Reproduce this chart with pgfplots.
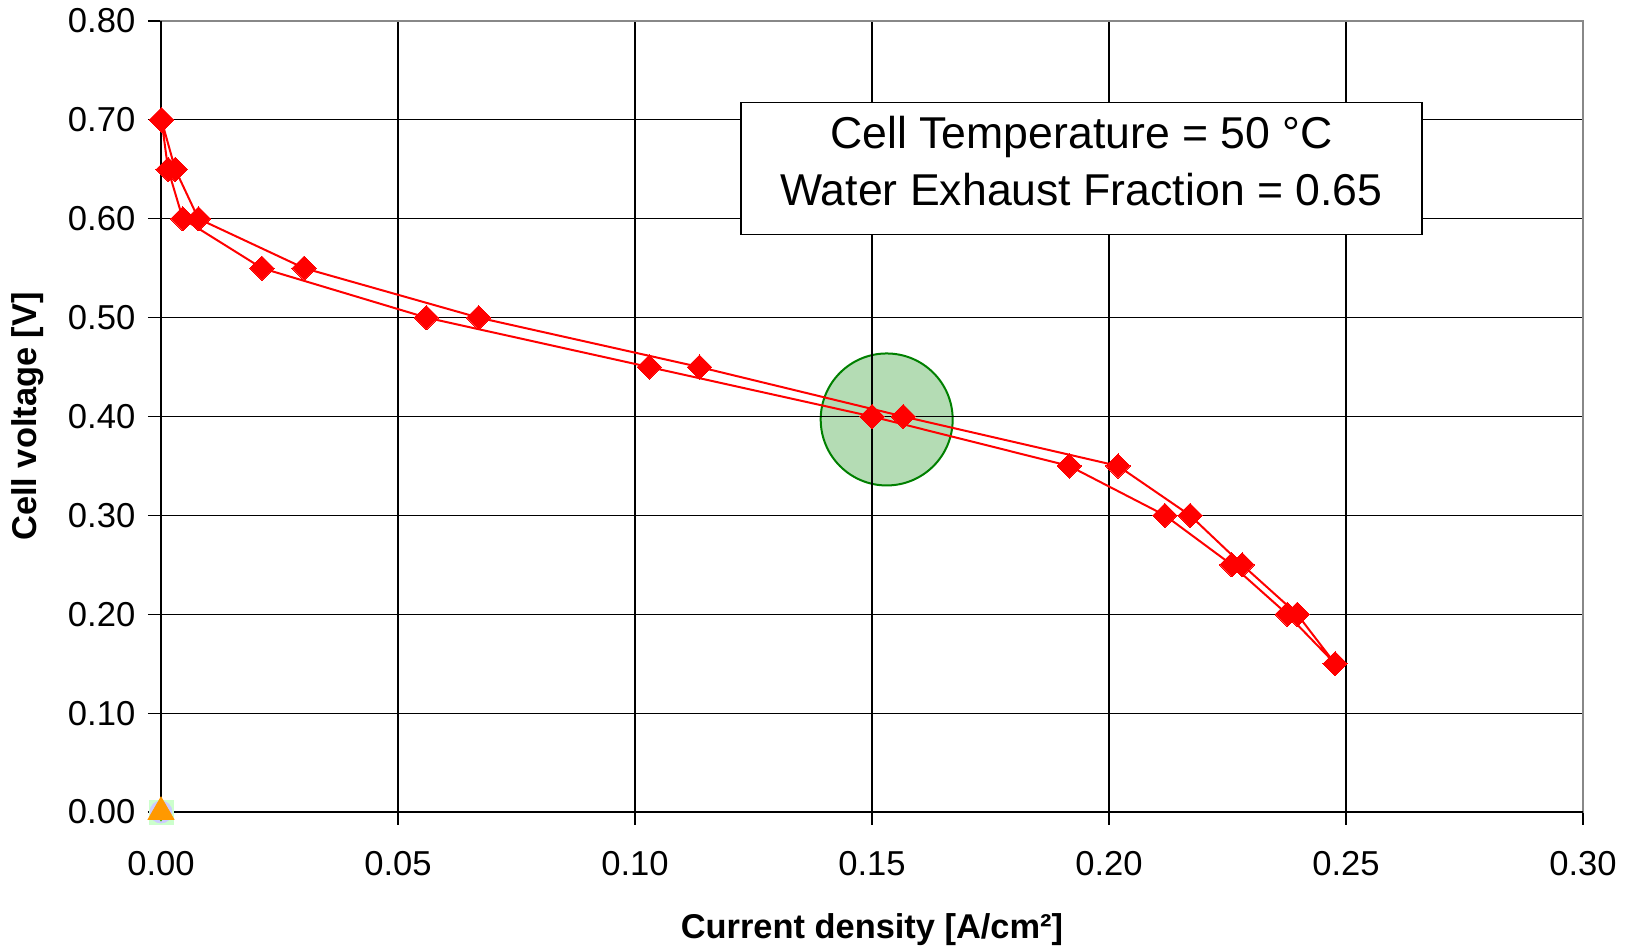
\documentclass[border=0pt]{standalone}
\usepackage{fontspec}
\setmainfont{Liberation Sans}
\usepackage{pgfplots}
\pgfplotsset{compat=1.18}
\definecolor{myred}{RGB}{255,0,0}
\definecolor{circfill}{RGB}{180,220,180}
\definecolor{circedge}{RGB}{0,128,0}
\definecolor{myorange}{RGB}{255,153,0}
\definecolor{frame}{RGB}{136,136,136}
\begin{document}
\begin{tikzpicture}
\pgfplotsset{set layers}
\begin{axis}[
  name=ax,
  scale only axis,
  width=711pt, height=395.5pt,
  xmin=0, xmax=0.30, ymin=0, ymax=0.80,
  xtick={0,0.05,...,0.30},
  ytick={0,0.1,...,0.8},
  xticklabels={0.00,0.05,0.10,0.15,0.20,0.25,0.30},
  yticklabels={0.00,0.10,0.20,0.30,0.40,0.50,0.60,0.70,0.80},
  tick pos=left,
  tick align=outside,
  major tick length=6.5pt,
  tick style={black, line width=0.6pt},
  grid=major,
  major grid style={black, line width=0.6pt},
  axis line style={frame, line width=1pt},
  /pgf/number format/assume math mode=true,
  ticklabel style={font=\fontsize{17.3}{19}\selectfont},
  xticklabel style={anchor=center, yshift=-26pt+6.5pt},
  yticklabel style={anchor=east, xshift=-2.8pt},
  xlabel={Current density [A/cm²]},
  ylabel={Cell voltage [V]},
  label style={font=\fontsize{17.2}{19}\selectfont\bfseries, inner sep=0pt},
  xlabel style={at={(axis description cs:0.5,-0.149)}, anchor=center},
  ylabel style={at={(axis description cs:-0.0935,0.5)}, anchor=center, rotate=0},
  clip=false,
]
% highlighted operating point (under the grid, as in the original)
\addplot[on layer=axis background, mark layer=like plot,
  only marks, mark=*, mark size=33pt,
  mark options={fill=circfill, draw=circedge, line width=1pt}]
  coordinates {(0.1531,0.397)};
% polarization curve (down and up sweep)
\addplot[myred, line width=1pt, mark=square*, mark size=4.3pt,
  mark options={rotate=45, fill=myred, draw=myred, line width=0pt}]
  coordinates {
  (0.0001,0.70) (0.0015,0.65) (0.0046,0.60) (0.0213,0.55) (0.0560,0.50)
  (0.1030,0.45) (0.1500,0.40) (0.1916,0.35) (0.2118,0.30) (0.2259,0.25)
  (0.2376,0.20) (0.2477,0.15) (0.2397,0.20) (0.2281,0.25) (0.2171,0.30)
  (0.2019,0.35) (0.1566,0.40) (0.1136,0.45) (0.0670,0.50) (0.0302,0.55)
  (0.0079,0.60) (0.0030,0.65) (0.0001,0.70)
  };
% series collapsed at origin
\addplot[only marks, mark=square*, mark size=6pt,
  mark options={fill=green!20, draw=green!20}] coordinates {(0,0)};
\addplot[only marks, mark=*, mark size=5.5pt,
  mark options={fill=blue!20, draw=blue!20}] coordinates {(0,0)};
\addplot[only marks, mark=diamond*, mark size=4.5pt,
  mark options={fill=green!60!black!70!yellow, draw=green!60!black!70!yellow}] coordinates {(0,0)};
\addplot[only marks, mark=x, mark size=3.5pt,
  mark options={draw=blue, line width=1pt}] coordinates {(0,0)};
\addplot[only marks, mark=triangle*, mark size=7.5pt,
  mark options={fill=myorange, draw=myorange}] coordinates {(0,0)};
% annotation box
\node[draw=black, line width=0.8pt, fill=white,
  minimum width=340.5pt, minimum height=66pt, inner sep=0pt]
  at (axis cs:0.1942,0.651) {};
\node[align=center, inner sep=0pt, yshift=3.6pt,
  font=\fontsize{22.3}{28.5}\selectfont]
  at (axis cs:0.1942,0.651)
  {Cell Temperature = 50 °C\\Water Exhaust Fraction = 0.65};
\draw[black, line width=1pt] (rel axis cs:0,1) -- (rel axis cs:0,0) -- (rel axis cs:1,0);
\end{axis}
\path ([xshift=-80.5pt,yshift=-67.5pt]ax.south west)
      ([xshift=22.5pt,yshift=10.5pt]ax.north east);
\end{tikzpicture}
\end{document}
